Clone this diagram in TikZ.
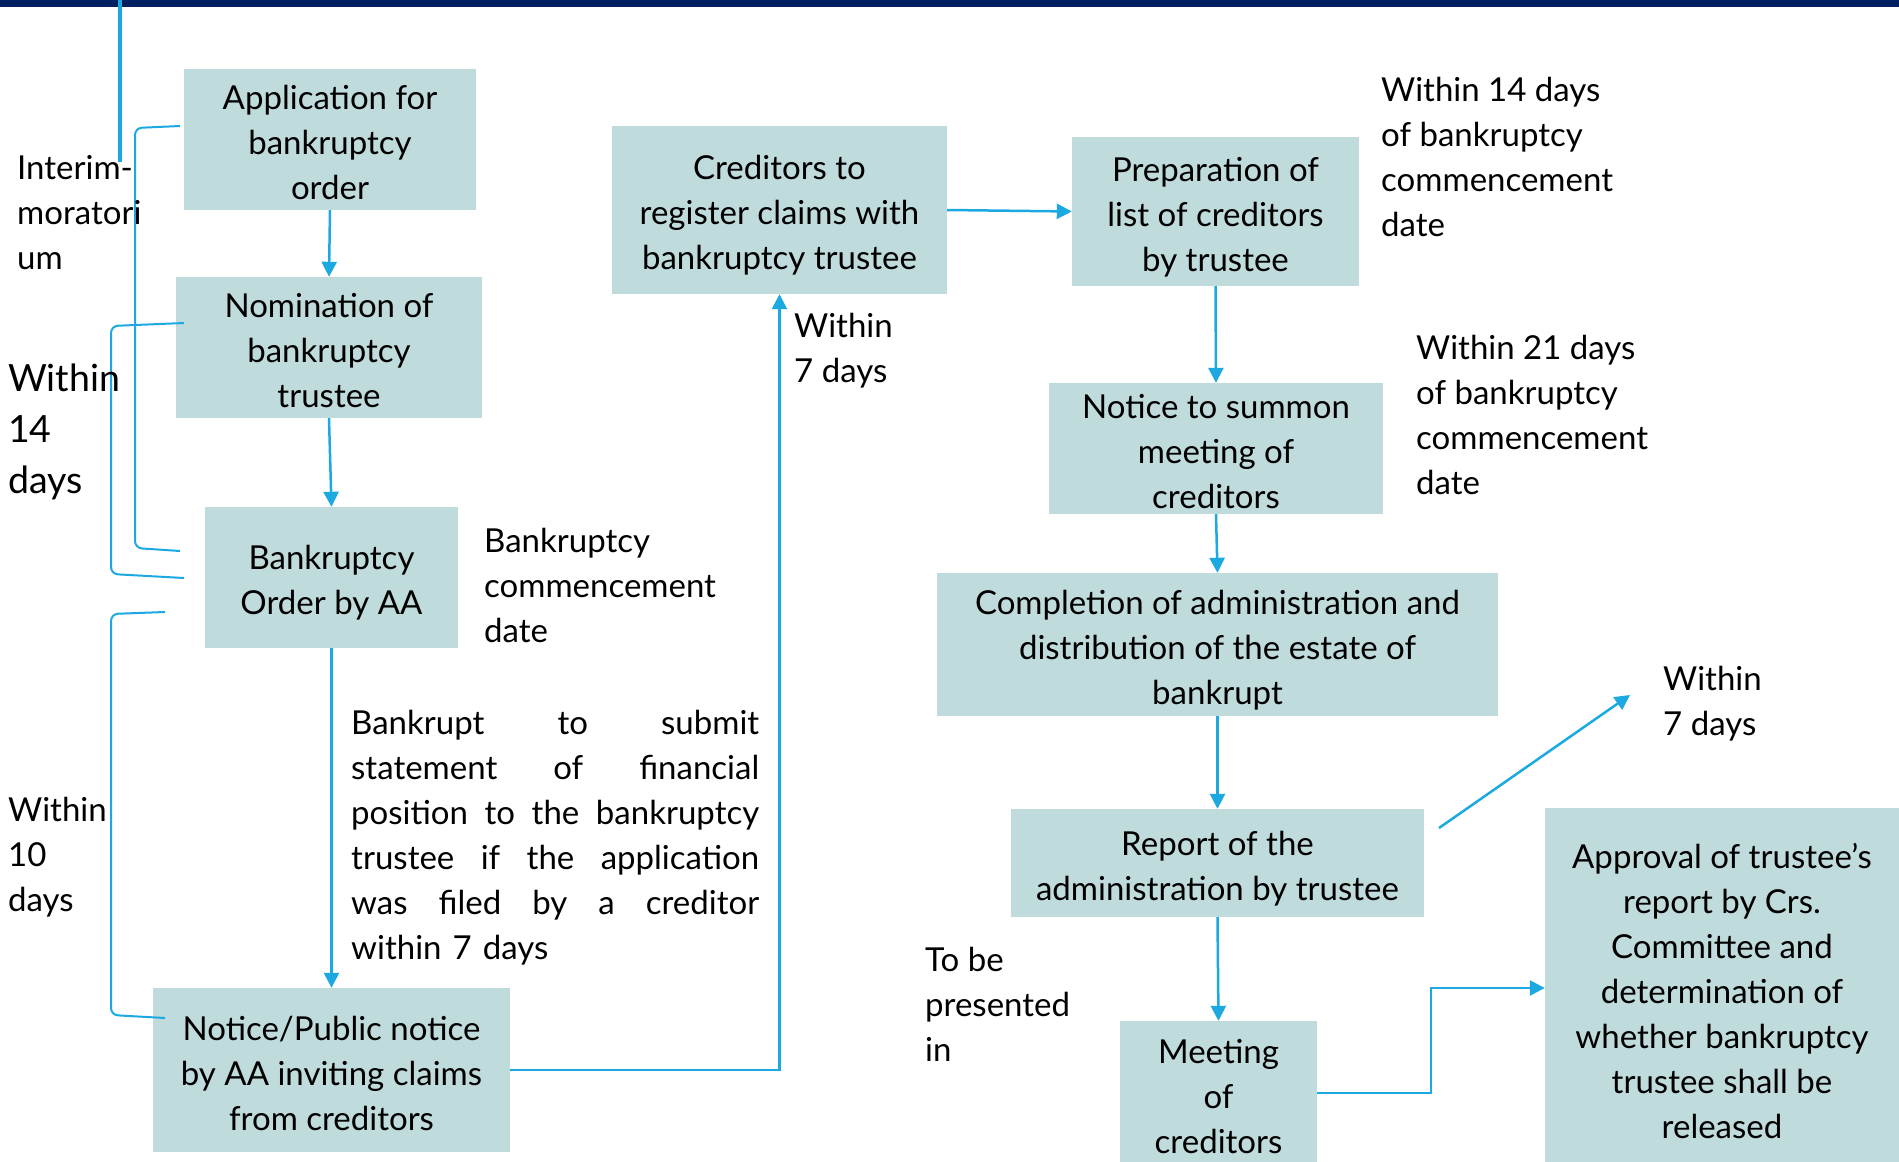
\documentclass[tikz,border=0pt]{standalone}
\usepackage{fontspec}
\setmainfont{Lato}
\usetikzlibrary{arrows.meta}
\definecolor{boxfill}{RGB}{191,219,219}
\definecolor{linkblue}{RGB}{28,169,225}
\definecolor{barnavy}{RGB}{0,32,96}
% fixed-height struts so every box text sits the same way in its box
\newcommand\firstlinestrut{\rule{0pt}{35pt}}
\newcommand\lastlinestrut{\rule[-5pt]{0pt}{5pt}}
% one justified line of the note below the order box
\newcommand\fullline[1]{\makebox[408pt][s]{#1}}

\begin{document}
\begin{tikzpicture}[x=1pt,y=-1pt,
  stepbox/.style={rectangle, fill=boxfill, inner sep=0pt, align=center,
    font=\fontsize{33}{45}\selectfont},
  note/.style={inner sep=0pt, align=left, anchor=west,
    font=\fontsize{33}{45}\selectfont},
  flow/.style={draw=linkblue, line width=2.5pt,
    -{Triangle[length=15pt,width=15pt]}},
  link/.style={draw=linkblue, line width=2.5pt},
  brace/.style={draw=linkblue, line width=2pt, rounded corners=7pt}]

\useasboundingbox (0,0) rectangle (1899,1162);
\fill[white] (0,0) rectangle (1899,1162);
\fill[barnavy] (0,0) rectangle (1899,7);

% process boxes
\node[stepbox, minimum width=292pt, minimum height=141pt] (app)  at (330,139.5)
  {\firstlinestrut Application for\\bankruptcy\\order\lastlinestrut};
\node[stepbox, minimum width=306pt, minimum height=141pt] (nom)  at (329,347.5)
  {\firstlinestrut Nomination of\\bankruptcy\\trustee\lastlinestrut};
\node[stepbox, minimum width=253pt, minimum height=141pt] (ord)  at (331.5,577.5)
  {\firstlinestrut Bankruptcy\\Order by AA\lastlinestrut};
\node[stepbox, minimum width=357pt, minimum height=164pt] (pub)  at (331.5,1070)
  {\firstlinestrut Notice/Public notice\\by AA inviting claims\\from creditors\lastlinestrut};
\node[stepbox, minimum width=335pt, minimum height=168pt] (reg)  at (779.5,210)
  {\firstlinestrut Creditors to\\register claims with\\bankruptcy trustee\lastlinestrut};
\node[stepbox, minimum width=287pt, minimum height=149pt] (list) at (1215.5,211.5)
  {\firstlinestrut Preparation of\\list of creditors\\by trustee\lastlinestrut};
\node[stepbox, minimum width=334pt, minimum height=131pt] (summ) at (1216,448.5)
  {\firstlinestrut Notice to summon\\meeting of\\creditors\lastlinestrut};
\node[stepbox, minimum width=561pt, minimum height=143pt] (comp) at (1217.5,644.5)
  {\firstlinestrut Completion of administration and\\distribution of the estate of\\bankrupt\lastlinestrut};
\node[stepbox, minimum width=413pt, minimum height=108pt] (rep)  at (1217.5,863)
  {\firstlinestrut Report of the\\administration by trustee\lastlinestrut};
\node[stepbox, minimum width=197pt, minimum height=144pt] (meet) at (1218.5,1093)
  {\firstlinestrut Meeting\\of\\creditors\lastlinestrut};
\node[stepbox, minimum width=354pt, minimum height=360pt] (appr) at (1722,988)
  {\firstlinestrut Approval of trustee’s\\report by Crs.\\Committee and\\determination of\\whether bankruptcy\\trustee shall be\\released\lastlinestrut};

% flow arrows
\draw[flow] (app.south) -- (nom.north);
\draw[flow] (nom.south) -- (ord.north);
\draw[flow] (ord.south) -- (pub.north);
\draw[flow] (pub.east) -| (reg.south);
\draw[flow] (reg.east) -- (list.west);
\draw[flow] (list.south) -- (summ.north);
\draw[flow] (summ.south) -- (comp.north);
\draw[flow] (comp.south) -- (rep.north);
\draw[flow] (rep.south) -- (meet.north);
\draw[flow] (meet.east) -- ++(114,0) |- (appr.west);

\coordinate (dstart) at (1439,828);
\coordinate (dend) at (1630,695);
\draw[flow] (dstart) -- (dend);

% line entering from the top edge
\coordinate (ttop) at (120,0);
\coordinate (tbot) at (120,162);
\draw[link, line width=3.5pt] (ttop) -- (tbot);

% brackets on the left
\draw[brace] (180,126) -- (135,128) -- (135,548) -- (180,551);
\draw[brace] (184,323) -- (111,326) -- (111,574) -- (184,578);
\draw[brace] (165,612) -- (111,614) -- (111,1015) -- (165,1018);

% annotations
\node[note] (interim) at (17,213) {Interim-\\moratori\\um};
\node[note, font=\fontsize{37.5}{51}\selectfont] (w14a) at (8,432) {Within\\14\\days};
\node[note] (w10) at (8,857) {Within\\10\\days};
\node[note] (bcd) at (484,585) {Bankruptcy\\commencement\\date};
\node[note, text width=408pt] (para) at (351,838) {%
\fullline{Bankrupt\hfill to\hfill submit}\\
\fullline{statement\hfill of\hfill financial}\\
\fullline{position\hfill to\hfill the\hfill bankruptcy}\\
\fullline{trustee\hfill if\hfill the\hfill application}\\
\fullline{was\hfill filed\hfill by\hfill a\hfill creditor}\\
within 7 days};
\node[note] (w7a) at (794,351) {Within\\7 days};
\node[note] (w14b) at (1381,157) {Within 14 days\\of bankruptcy\\commencement\\date};
\node[note] (w21) at (1416,415) {Within 21 days\\of bankruptcy\\commencement\\date};
\node[note] (w7b) at (1663,704) {Within\\7 days};
\node[note] (tobe) at (925,1004) {To be\\presented\\in};
\end{tikzpicture}
\end{document}
